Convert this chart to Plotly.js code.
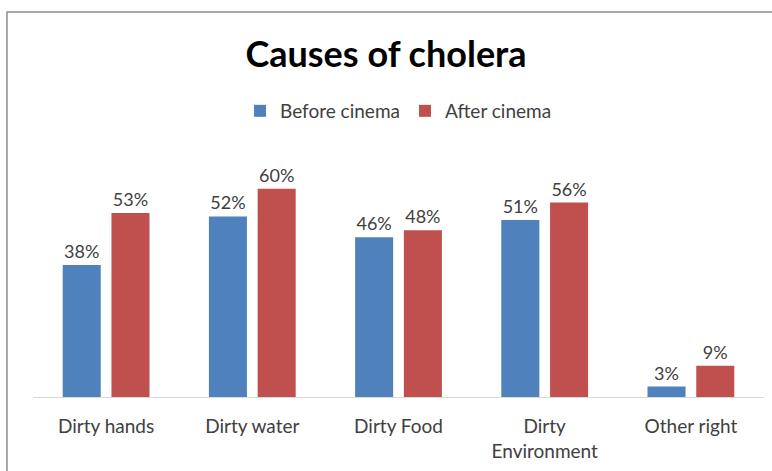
<!DOCTYPE html>
<html>
<head>
<meta charset="utf-8">
<script src="https://cdn.plot.ly/plotly-3.0.1.min.js"></script>
<style>html,body{margin:0;padding:0;background:#fff;}#chart{width:772px;height:471px;}</style>
</head>
<body>
<div id="chart"></div>
<script>
const categories = ["Dirty hands", "Dirty water", "Dirty Food", "Dirty<br>Environment", "Other right"];
const beforeCinema = [38, 52, 46, 51, 3];
const afterCinema = [53, 60, 48, 56, 9];
const seriesNames = ["Before cinema", "After cinema"];

const fontFam = "Lato, 'Open Sans', sans-serif";
const labelFont = {family: fontFam, size: 18, color: "#404040"};
const tickFont = {family: fontFam, size: 19, color: "#404040"};

const traces = [
  {type: "bar", name: seriesNames[0], x: categories, y: beforeCinema,
   marker: {color: "#4F81BD"}, text: beforeCinema.map(v => v + "%"),
   textposition: "outside", textfont: labelFont, cliponaxis: false, hoverinfo: "none"},
  {type: "bar", name: seriesNames[1], x: categories, y: afterCinema,
   marker: {color: "#C0504D"}, text: afterCinema.map(v => v + "%"),
   textposition: "outside", textfont: labelFont, cliponaxis: false, hoverinfo: "none"}
];

const layout = {
  width: 772, height: 471,
  margin: {l: 33, r: 8, t: 154, b: 74},
  paper_bgcolor: "#ffffff", plot_bgcolor: "#ffffff",
  title: {text: "<b>Causes of cholera</b>", font: {family: fontFam, size: 36, color: "#000000"},
          x: 0.5, xanchor: "center", y: 0.885, yanchor: "middle"},
  barmode: "group", bargap: 0.333, bargroupgap: 0.22,
  showlegend: true,
  legend: {orientation: "h", x: 0.5, xanchor: "center", y: 1.177, yanchor: "middle",
           font: {family: fontFam, size: 19, color: "#404040"}, itemwidth: 30, tracegroupgap: 0},
  xaxis: {showline: true, linecolor: "#d9d9d9", linewidth: 1, ticks: "", tickfont: tickFont,
          ticklabelstandoff: 12, showgrid: false, zeroline: false},
  yaxis: {range: [0, 70], visible: false, showgrid: false, zeroline: false},
  shapes: [
    {type: "rect", xref: "paper", yref: "paper", x0: -0.0356, x1: 1.05, y0: -0.4, y1: 1.584,
     line: {color: "#8c8c8c", width: 1.5}, fillcolor: "rgba(0,0,0,0)", layer: "below"}
  ]
};

Plotly.newPlot("chart", traces, layout, {displayModeBar: false, staticPlot: true});
</script>
</body>
</html>
